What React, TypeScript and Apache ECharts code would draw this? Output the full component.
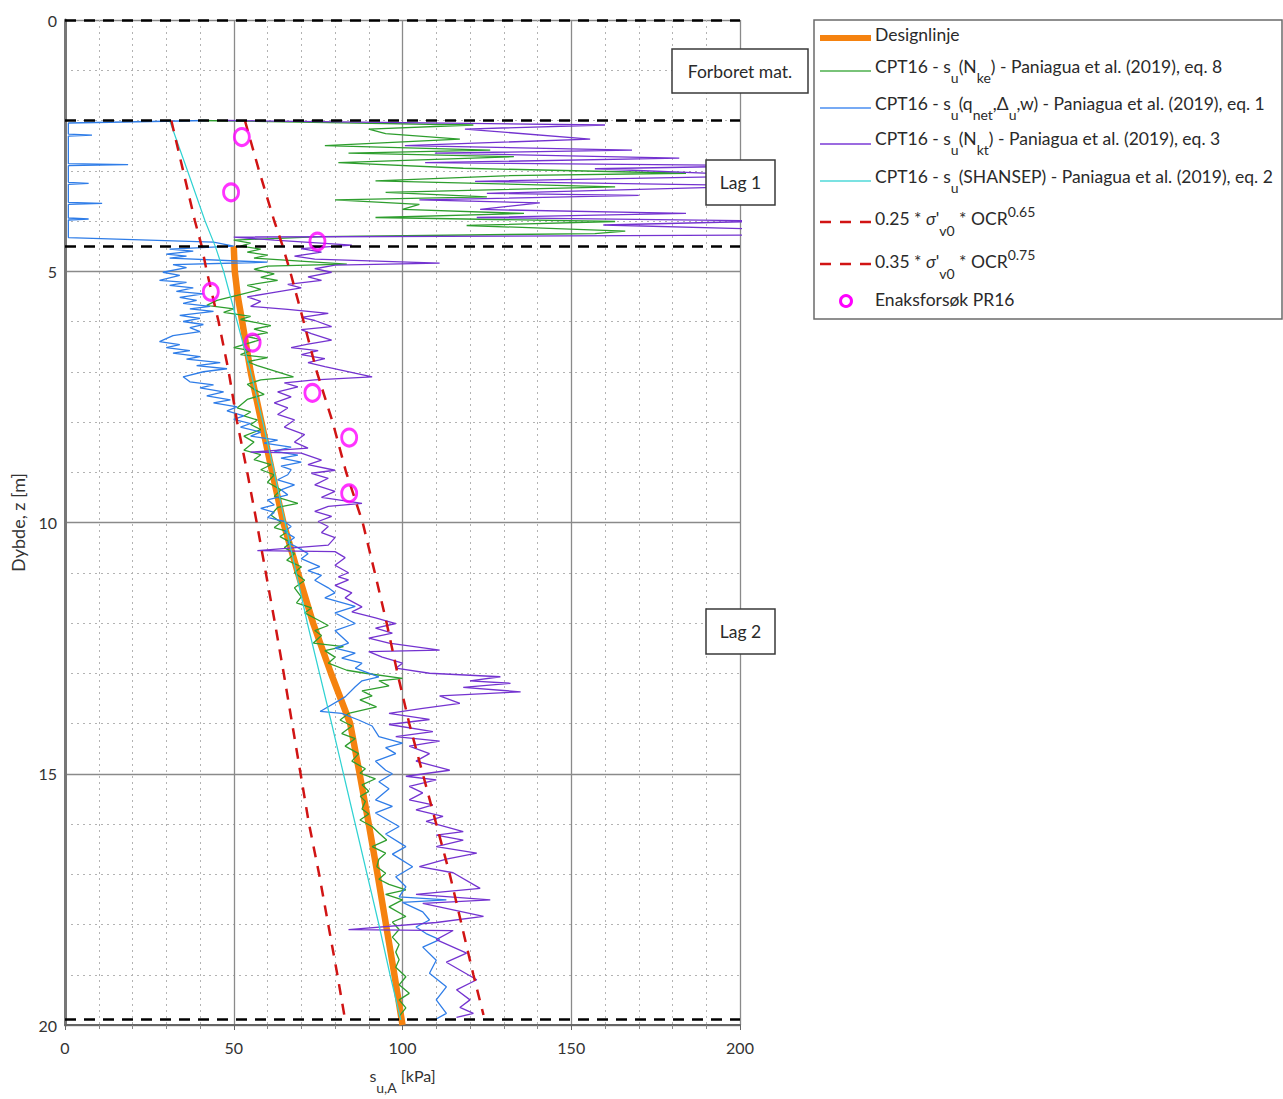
import React, { useEffect, useRef } from "react";
import * as echarts from "echarts";

// ---------- DATA ----------
const xTicks = [0, 50, 100, 150, 200];
const yTicks = [0, 5, 10, 15, 20];
const layerBounds = [0, 2.0, 4.5, 19.88];

// [kPa, depth m]
const designLine = [
  [50, 4.5], [50.3, 5], [51.2, 5.5], [52.5, 6], [55, 7], [58.2, 8], [61.4, 9], [64.7, 10],
  [69, 11], [73.5, 12], [78.8, 13], [84.5, 14], [87.3, 15], [90, 16], [92.6, 17], [95.1, 18],
  [97.6, 19], [100, 20],
];

const shansep = [
  [31, 2], [36.3, 3], [41.5, 4], [44.5, 4.5], [47, 5], [51, 6], [55, 7], [58.6, 8], [62, 9],
  [65.2, 10], [68.5, 11], [71.8, 12], [75.4, 13], [79, 14], [82.5, 15], [86, 16], [89.5, 17],
  [93, 18], [96.3, 19], [99.5, 19.9],
];

const su025 = [
  [31.5, 2], [35, 3], [38.5, 4], [40.5, 4.5], [42, 5], [45.5, 6], [48.5, 7], [51, 8], [54, 9],
  [56.8, 10], [59.5, 11], [62.2, 12], [64.8, 13], [67.3, 14], [69.8, 15], [72.3, 16], [75.3, 17],
  [78, 18], [80.7, 19], [83, 19.9],
];

const su035 = [
  [53.3, 2], [57.5, 3], [62, 4], [64.5, 4.5], [66.7, 5], [70.7, 6], [74.6, 7], [79.3, 8],
  [83.3, 9], [88.2, 10], [91.8, 11], [95.3, 12], [98.5, 13], [102, 14], [106, 15], [110, 16],
  [114, 17], [117.5, 18], [121, 19], [124, 19.8],
];

const uniaxial = [
  [52.4, 2.33], [49.2, 3.43], [74.8, 4.41], [43.2, 5.41], [55.6, 6.42], [73.3, 7.42],
  [84.2, 8.31], [84.2, 9.42],
];

const cptNke = [
  [40, 2.0], [121, 2.09], [90, 2.17], [95, 2.26], [117, 2.37], [77, 2.5], [126, 2.59], [84, 2.65],
  [133, 2.72], [81, 2.84], [118, 2.95], [184, 3.05], [130, 3.1], [92, 3.2], [163, 3.32], [95, 3.43],
  [125, 3.52], [80, 3.58], [105, 3.67], [100, 3.77], [136, 3.85], [92, 3.93], [163, 4.01], [119, 4.09],
  [166, 4.2], [157, 4.25], [76, 4.31], [50, 4.38],
  [55, 4.44], [52, 4.5], [58, 4.56], [54, 4.62], [60, 4.68], [56, 4.74], [83.5, 4.86], [60, 4.9],
  [56, 4.96], [62, 5.05], [58, 5.12], [63, 5.18], [54, 5.28], [58, 5.36], [51, 5.48], [45, 5.58],
  [42, 5.68], [50, 5.75], [47, 5.82], [55, 5.9], [52, 5.96], [61, 6.08], [56, 6.15], [60, 6.22],
  [54, 6.3], [58, 6.36], [50, 6.52], [55, 6.58], [52, 6.66], [60, 6.72], [54, 6.8], [57, 6.88],
  [67.7, 7.1], [58, 7.16], [54, 7.25], [56, 7.35], [59, 7.45], [54, 7.55], [51, 7.72], [55, 7.8],
  [53, 7.88], [57, 7.96], [55, 8.05], [58, 8.15], [53, 8.28], [56, 8.4], [53, 8.56], [58, 8.65],
  [56, 8.75], [61, 8.85], [58, 8.95], [62, 9.05], [60, 9.2], [64, 9.35], [62, 9.48], [69, 9.62],
  [63, 9.7], [61, 9.85], [64, 10.0], [62, 10.1], [66, 10.18], [63.7, 10.28], [67, 10.4], [65, 10.5],
  [68, 10.62], [65.7, 10.75], [70, 10.88], [68, 11.0], [71, 11.15], [68, 11.3], [70, 11.48],
  [68.6, 11.6], [73, 11.7], [71, 11.8], [75, 11.94], [78, 12.05], [74, 12.15], [76, 12.25],
  [73.6, 12.4], [82.5, 12.47], [77, 12.55], [80, 12.68], [78, 12.8], [83.5, 12.94], [89, 13.0],
  [100, 13.1], [93, 13.15], [96, 13.25], [88, 13.35], [91, 13.45], [87.4, 13.53], [92.3, 13.67],
  [84, 13.8], [81.5, 13.93], [85, 14.05], [82, 14.2], [86, 14.3], [83, 14.45], [87, 14.6],
  [85, 14.75], [89, 14.9], [87.4, 14.99], [92, 15.1], [88, 15.22], [90, 15.35], [87.5, 15.45],
  [89, 15.55], [88, 15.7], [90, 15.8], [87.4, 15.92], [91, 16.05], [93, 16.18], [95.3, 16.32],
  [91, 16.45], [95, 16.58], [93, 16.7], [92.4, 16.85], [95, 16.98], [93, 17.1], [96, 17.2],
  [101, 17.31], [95, 17.4], [100, 17.51], [96, 17.65], [101, 17.84], [97, 17.95], [99, 18.1],
  [97, 18.25], [99, 18.4], [98, 18.55], [99, 18.7], [98, 18.85], [101, 19.04], [99, 19.2],
  [102, 19.37], [99, 19.5], [101, 19.66], [99, 19.83],
];

const cptQnet = [
  [42, 2.0], [1, 2.05], [1, 2.27], [8, 2.29], [1, 2.31], [1, 2.86], [18.7, 2.88], [1, 2.9],
  [1, 3.23], [7, 3.25], [1, 3.27], [1, 3.63], [11, 3.65], [1, 3.67], [1, 3.94], [7, 3.96],
  [1, 3.98], [1, 4.33],
  [44, 4.42], [50, 4.5], [31, 4.56], [38, 4.6], [30, 4.66], [36, 4.7], [31, 4.74], [60, 4.82],
  [32, 4.87], [36, 4.93], [29, 5.02], [34, 5.08], [28, 5.18], [36, 5.22], [31, 5.28], [38, 5.33],
  [33, 5.4], [41, 5.45], [34, 5.52], [39, 5.58], [35, 5.64], [43, 5.7], [37, 5.75], [44, 5.8],
  [34, 5.88], [40, 5.94], [35, 6.0], [41, 6.06], [37, 6.12], [40, 6.2], [32, 6.28], [28, 6.4],
  [34, 6.46], [30, 6.52], [37, 6.58], [32, 6.63], [40, 6.7], [36, 6.75], [46, 6.82], [39, 6.88],
  [48, 6.94], [41, 7.0], [35, 7.1], [37, 7.2], [44, 7.26], [40, 7.32], [47, 7.4], [42, 7.48],
  [49, 7.56], [44, 7.62], [51, 7.7], [48, 7.78], [53, 7.88], [50, 7.95], [55, 8.03], [52, 8.1],
  [58, 8.2], [55, 8.28], [63, 8.36], [59, 8.42], [67, 8.5], [62, 8.58], [69, 8.66], [64, 8.72],
  [70, 8.8], [64, 8.88], [67, 8.95], [66, 9.05], [63, 9.15], [68, 9.25], [64, 9.35], [66, 9.45],
  [60, 9.55], [62, 9.65], [58, 9.72], [62, 9.8], [60, 9.9], [65, 9.98], [67, 10.08], [65, 10.18],
  [68, 10.3], [66, 10.4], [69, 10.5], [72, 10.62], [70, 10.72], [75.5, 10.88], [72, 10.96],
  [76, 11.05], [74, 11.15], [78, 11.3], [80, 11.4], [77, 11.5], [86, 11.67], [80, 11.8],
  [86, 12.01], [80, 12.15], [84, 12.4], [80, 12.5], [86, 12.6], [82, 12.7], [88, 12.8],
  [86, 12.9], [93, 13.07], [88, 13.15], [86, 13.27], [83, 13.47], [75.6, 13.76], [82, 13.8],
  [87, 13.93], [91, 14.05], [93, 14.26], [100, 14.39], [95, 14.48], [98, 14.6], [92, 14.75],
  [95, 14.93], [97, 15.0], [93, 15.16], [96, 15.3], [92, 15.52], [97, 15.65], [92, 15.78],
  [99, 16.05], [95, 16.2], [101, 16.45], [97, 16.6], [103, 16.85], [98, 17.05], [101, 17.25],
  [99, 17.45], [113, 17.51], [100, 17.56], [106, 17.75], [108, 17.91], [104, 18.05], [107, 18.18],
  [111, 18.3], [106, 18.45], [110, 18.71], [108, 18.97], [113, 19.24], [110, 19.5], [113, 19.77],
  [110, 19.88],
];

const cptNkt = [
  [48, 2.0], [160, 2.09], [118.5, 2.17], [155.6, 2.37], [100.7, 2.5], [168, 2.59], [109.6, 2.65],
  [182, 2.75], [106.7, 2.84], [210, 2.9], [157, 2.96], [210, 3.1], [121.5, 3.21], [210, 3.3],
  [125, 3.45], [170, 3.49], [105, 3.58], [140.7, 3.64], [123, 3.77], [184, 3.85], [122, 3.93],
  [210, 4.0], [159.5, 4.08], [210, 4.17], [210, 4.28], [50, 4.32],
  [62, 4.38], [85, 4.48], [70, 4.55], [76, 4.62], [68, 4.7], [74, 4.76], [111, 4.84], [80, 4.88],
  [74, 4.95], [79, 5.02], [72, 5.11], [76, 5.18], [66, 5.26], [70, 5.33], [62, 5.42], [54, 5.51],
  [58, 5.6], [55, 5.7], [66, 5.76], [78, 5.84], [70, 5.92], [74, 5.98], [79, 6.1], [70, 6.16],
  [73, 6.24], [79, 6.37], [72, 6.45], [67, 6.52], [75, 6.58], [70, 6.66], [77, 6.74], [72, 6.82],
  [77, 6.9], [91, 7.1], [74, 7.16], [65, 7.22], [69, 7.3], [63, 7.4], [67, 7.5], [62, 7.62],
  [66, 7.72], [63, 7.85], [68, 7.96], [65, 8.1], [71, 8.25], [68, 8.4], [72, 8.52], [55, 8.6],
  [70, 8.62], [76, 8.76], [72, 8.85], [80, 8.96], [73, 9.02], [78, 9.12], [74, 9.25], [80, 9.38],
  [76, 9.5], [88, 9.62], [78, 9.68], [74, 9.78], [79, 9.88], [75, 9.98], [78, 10.08], [76, 10.2],
  [80, 10.3], [78, 10.45], [57, 10.56], [80, 10.58], [83, 10.7], [80, 10.85], [84, 11.0],
  [81, 11.08], [84, 11.14], [80, 11.25], [85, 11.4], [83, 11.5], [88, 11.68], [85, 11.78],
  [92, 11.9], [98, 12.01], [92, 12.1], [97, 12.2], [90, 12.3], [96, 12.4], [111, 12.54],
  [90, 12.57], [94, 12.68], [100, 12.8], [98, 12.9], [108, 13.0], [129, 13.07], [120, 13.15],
  [132, 13.2], [118, 13.28], [135, 13.37], [111, 13.45], [117, 13.6], [106, 13.7], [96, 13.8],
  [108, 13.92], [96, 14.02], [109, 14.16], [98, 14.26], [111, 14.35], [102, 14.45], [108, 14.6],
  [104, 14.75], [114, 14.93], [101, 15.05], [110, 15.12], [102, 15.25], [106, 15.38], [102, 15.52],
  [109, 15.62], [104, 15.72], [112, 15.85], [107, 15.95], [118, 16.15], [110, 16.22], [118, 16.32],
  [110, 16.45], [122, 16.58], [113, 16.7], [105, 16.85], [115, 16.97], [123, 17.28], [104, 17.4],
  [126, 17.51], [106, 17.58], [124, 17.84], [110, 17.96], [84, 18.1], [115, 18.12], [110, 18.3],
  [119, 18.57], [113, 18.75], [122, 19.1], [116, 19.3], [120, 19.5], [117, 19.65], [121, 19.77],
  [116, 19.85],
];

// ---------- STYLE ----------
const FONT = "Lato";
const LFS = 17.5;
const C_ORANGE = "#f5820f";
const C_GREEN = "#2e9e2e";
const C_BLUE = "#2f7de8";
const C_PURPLE = "#7433d0";
const C_CYAN = "#2fd2d2";
const C_RED = "#d11414";
const C_MAGENTA = "#ff00ff";
const C_TEXT = "#2a2a2a";

const richG = {
  m: { fontFamily: FONT, fontSize: LFS, fill: C_TEXT },
  it: { fontFamily: FONT, fontSize: LFS, fontStyle: "italic", fill: C_TEXT },
  sub: { fontFamily: FONT, fontSize: 14, fill: C_TEXT, padding: [22, 0, 0, 0] },
  sub2: { fontFamily: FONT, fontSize: 14, fill: C_TEXT, padding: [24, 0, 0, 0] },
  sup: { fontFamily: FONT, fontSize: 14, fill: C_TEXT, padding: [0, 0, 14, 0] },
};

const legendItems = [
  { kind: "thick", color: C_ORANGE, lineY: 38, textY: 34, text: "{m|Designlinje}" },
  { kind: "line", color: "#4caf4c", lineY: 71, textY: 66, text: "{m|CPT16 - s}{sub|u}{m|(N}{sub|ke}{m|) - Paniagua et al. (2019), eq. 8}" },
  { kind: "line", color: "#4a8ef0", lineY: 108, textY: 103, text: "{m|CPT16 - s}{sub|u}{m|(q}{sub|net}{m|,Δ}{sub|u}{m|,w) - Paniagua et al. (2019), eq. 1}" },
  { kind: "line", color: "#7a3ad6", lineY: 144, textY: 138, text: "{m|CPT16 - s}{sub|u}{m|(N}{sub|kt}{m|) - Paniagua et al. (2019), eq. 3}" },
  { kind: "line", color: "#4fd8d8", lineY: 181, textY: 176, text: "{m|CPT16 - s}{sub|u}{m|(SHANSEP) - Paniagua et al. (2019), eq. 2}" },
  { kind: "dash", color: C_RED, lineY: 222, textY: 218, text: "{m|0.25 * }{it|σ}{m|'}{sub2|v0}{m| * OCR}{sup|0.65}" },
  { kind: "dash", color: C_RED, lineY: 264, textY: 261, text: "{m|0.35 * }{it|σ}{m|'}{sub2|v0}{m| * OCR}{sup|0.75}" },
  { kind: "circle", color: C_MAGENTA, lineY: 301, textY: 299, text: "{m|Enaksforsøk PR16}" },
];

const textBoxes = [
  { label: "Forboret mat.", x: 672, y: 49, w: 136, h: 44 },
  { label: "Lag 1", x: 706, y: 160, w: 69, h: 45 },
  { label: "Lag 2", x: 706, y: 609, w: 69, h: 45 },
];

function buildGraphic() {
  const els: any[] = [];
  els.push({
    type: "rect", z: 100,
    shape: { x: 814, y: 20, width: 468, height: 299 },
    style: { fill: "#fff", stroke: "#6b6b6b", lineWidth: 1.5 },
  });
  legendItems.forEach((it) => {
    if (it.kind === "thick") {
      els.push({ type: "line", z: 101, shape: { x1: 820, y1: it.lineY, x2: 871, y2: it.lineY }, style: { stroke: it.color, lineWidth: 6 } });
    } else if (it.kind === "line") {
      els.push({ type: "line", z: 101, shape: { x1: 820, y1: it.lineY, x2: 871, y2: it.lineY }, style: { stroke: it.color, lineWidth: 1.6 } });
    } else if (it.kind === "dash") {
      els.push({ type: "line", z: 101, shape: { x1: 820, y1: it.lineY, x2: 872, y2: it.lineY }, style: { stroke: it.color, lineWidth: 2.5, lineDash: [11, 9] } });
    } else {
      els.push({ type: "circle", z: 101, shape: { cx: 846, cy: it.lineY, r: 5.5 }, style: { fill: "none", stroke: it.color, lineWidth: 3 } });
    }
    els.push({
      type: "text", z: 101, x: 875, y: it.textY,
      style: { text: it.text, rich: richG, align: "left", verticalAlign: "middle", fontFamily: FONT, fontSize: LFS, fill: C_TEXT },
    });
  });
  textBoxes.forEach((b) => {
    els.push({
      type: "rect", z: 100,
      shape: { x: b.x, y: b.y, width: b.w, height: b.h },
      style: { fill: "#fff", stroke: "#3a3a3a", lineWidth: 1.5 },
    });
    els.push({
      type: "text", z: 101, x: b.x + b.w / 2, y: b.y + b.h / 2,
      style: { text: b.label, align: "center", verticalAlign: "middle", fontFamily: FONT, fontSize: LFS, fill: C_TEXT },
    });
  });
  return els;
}

function lineSeries(name: string, data: number[][], color: string, width: number, extra: any = {}) {
  return {
    type: "line", name, data, symbol: "none", showSymbol: false, smooth: false,
    lineStyle: { color, width, ...(extra.lineStyle || {}) },
    itemStyle: { color },
    clip: true,
    z: extra.z ?? 2,
  };
}

export default function App() {
  const ref = useRef<HTMLDivElement>(null);
  useEffect(() => {
    if (!ref.current) return;
    const chart = echarts.init(ref.current, undefined, { renderer: "svg" });
    const option: any = {
      animation: false,
      backgroundColor: "#ffffff",
      grid: { left: 65, top: 20, width: 675, height: 1005, containLabel: false, outerBoundsMode: "none" },
      xAxis: {
        type: "value", min: xTicks[0], max: xTicks[xTicks.length - 1], interval: 50, position: "bottom",
        axisLine: { show: true, onZero: false, lineStyle: { color: "#666", width: 2 } },
        axisTick: { show: true, length: 5, lineStyle: { color: "#666" } },
        minorTick: { show: true, splitNumber: 5, length: 4, lineStyle: { color: "#888" } },
        axisLabel: { fontSize: 16, color: "#333", margin: 14, fontFamily: FONT },
        splitLine: { show: true, lineStyle: { color: "#8a8a8a", width: 1.3 } },
        minorSplitLine: { show: true, lineStyle: { color: "#b3b3b3", width: 1, type: [2, 4] } },
        name: "{m|s}{sub|u,A}{m| [kPa]}",
        nameLocation: "middle", nameGap: 31,
        nameTextStyle: {
          rich: {
            m: { fontFamily: FONT, fontSize: 16, color: "#333" },
            sub: { fontFamily: FONT, fontSize: 14, color: "#333", padding: [24, 0, 0, 0] },
          },
        },
      },
      yAxis: {
        type: "value", inverse: true, min: yTicks[0], max: yTicks[yTicks.length - 1], interval: 5,
        axisLine: { show: true, onZero: false, lineStyle: { color: "#777", width: 3 } },
        axisTick: { show: false },
        minorTick: { show: false, splitNumber: 5 },
        axisLabel: { fontSize: 16, color: "#333", margin: 8, fontFamily: FONT },
        splitLine: { show: true, lineStyle: { color: "#8a8a8a", width: 1.3 } },
        minorSplitLine: { show: true, lineStyle: { color: "#b3b3b3", width: 1, type: [2, 4] } },
        name: "Dybde, z [m]", nameLocation: "middle", nameGap: 38, nameRotate: 90,
        nameTextStyle: { fontFamily: FONT, fontSize: 18, color: "#333" },
      },
      series: [
        lineSeries("Designlinje", designLine, C_ORANGE, 6.5),
        lineSeries("CPT16 - su(Nke) - Paniagua et al. (2019), eq. 8", cptNke, C_GREEN, 1.3),
        lineSeries("CPT16 - su(qnet,Δu,w) - Paniagua et al. (2019), eq. 1", cptQnet, C_BLUE, 1.3),
        lineSeries("CPT16 - su(Nkt) - Paniagua et al. (2019), eq. 3", cptNkt, C_PURPLE, 1.3),
        lineSeries("CPT16 - su(SHANSEP) - Paniagua et al. (2019), eq. 2", shansep, C_CYAN, 1.2),
        lineSeries("0.25 * σ'v0 * OCR^0.65", su025, C_RED, 2.5, { lineStyle: { type: [11, 9] } }),
        lineSeries("0.35 * σ'v0 * OCR^0.75", su035, C_RED, 2.5, { lineStyle: { type: [11, 9] } }),
        {
          type: "line", name: "Lagdeling", data: [], symbol: "none",
          markLine: {
            silent: true, symbol: ["none", "none"], label: { show: false },
            lineStyle: { color: "#000", width: 2.5, type: [11, 8] },
            data: layerBounds.map((v) => ({ yAxis: v })),
          },
        },
        {
          type: "scatter", name: "Enaksforsøk PR16", data: uniaxial, symbol: "circle", symbolSize: [15, 17],
          itemStyle: { color: "rgba(0,0,0,0)", borderColor: C_MAGENTA, borderWidth: 3 },
          z: 5,
        },
      ],
      graphic: buildGraphic(),
    };
    chart.setOption(option);
    return () => chart.dispose();
  }, []);
  return <div ref={ref} style={{ position: "fixed", left: 0, top: 0, width: 1283, height: 1099, background: "#fff" }} />;
}
